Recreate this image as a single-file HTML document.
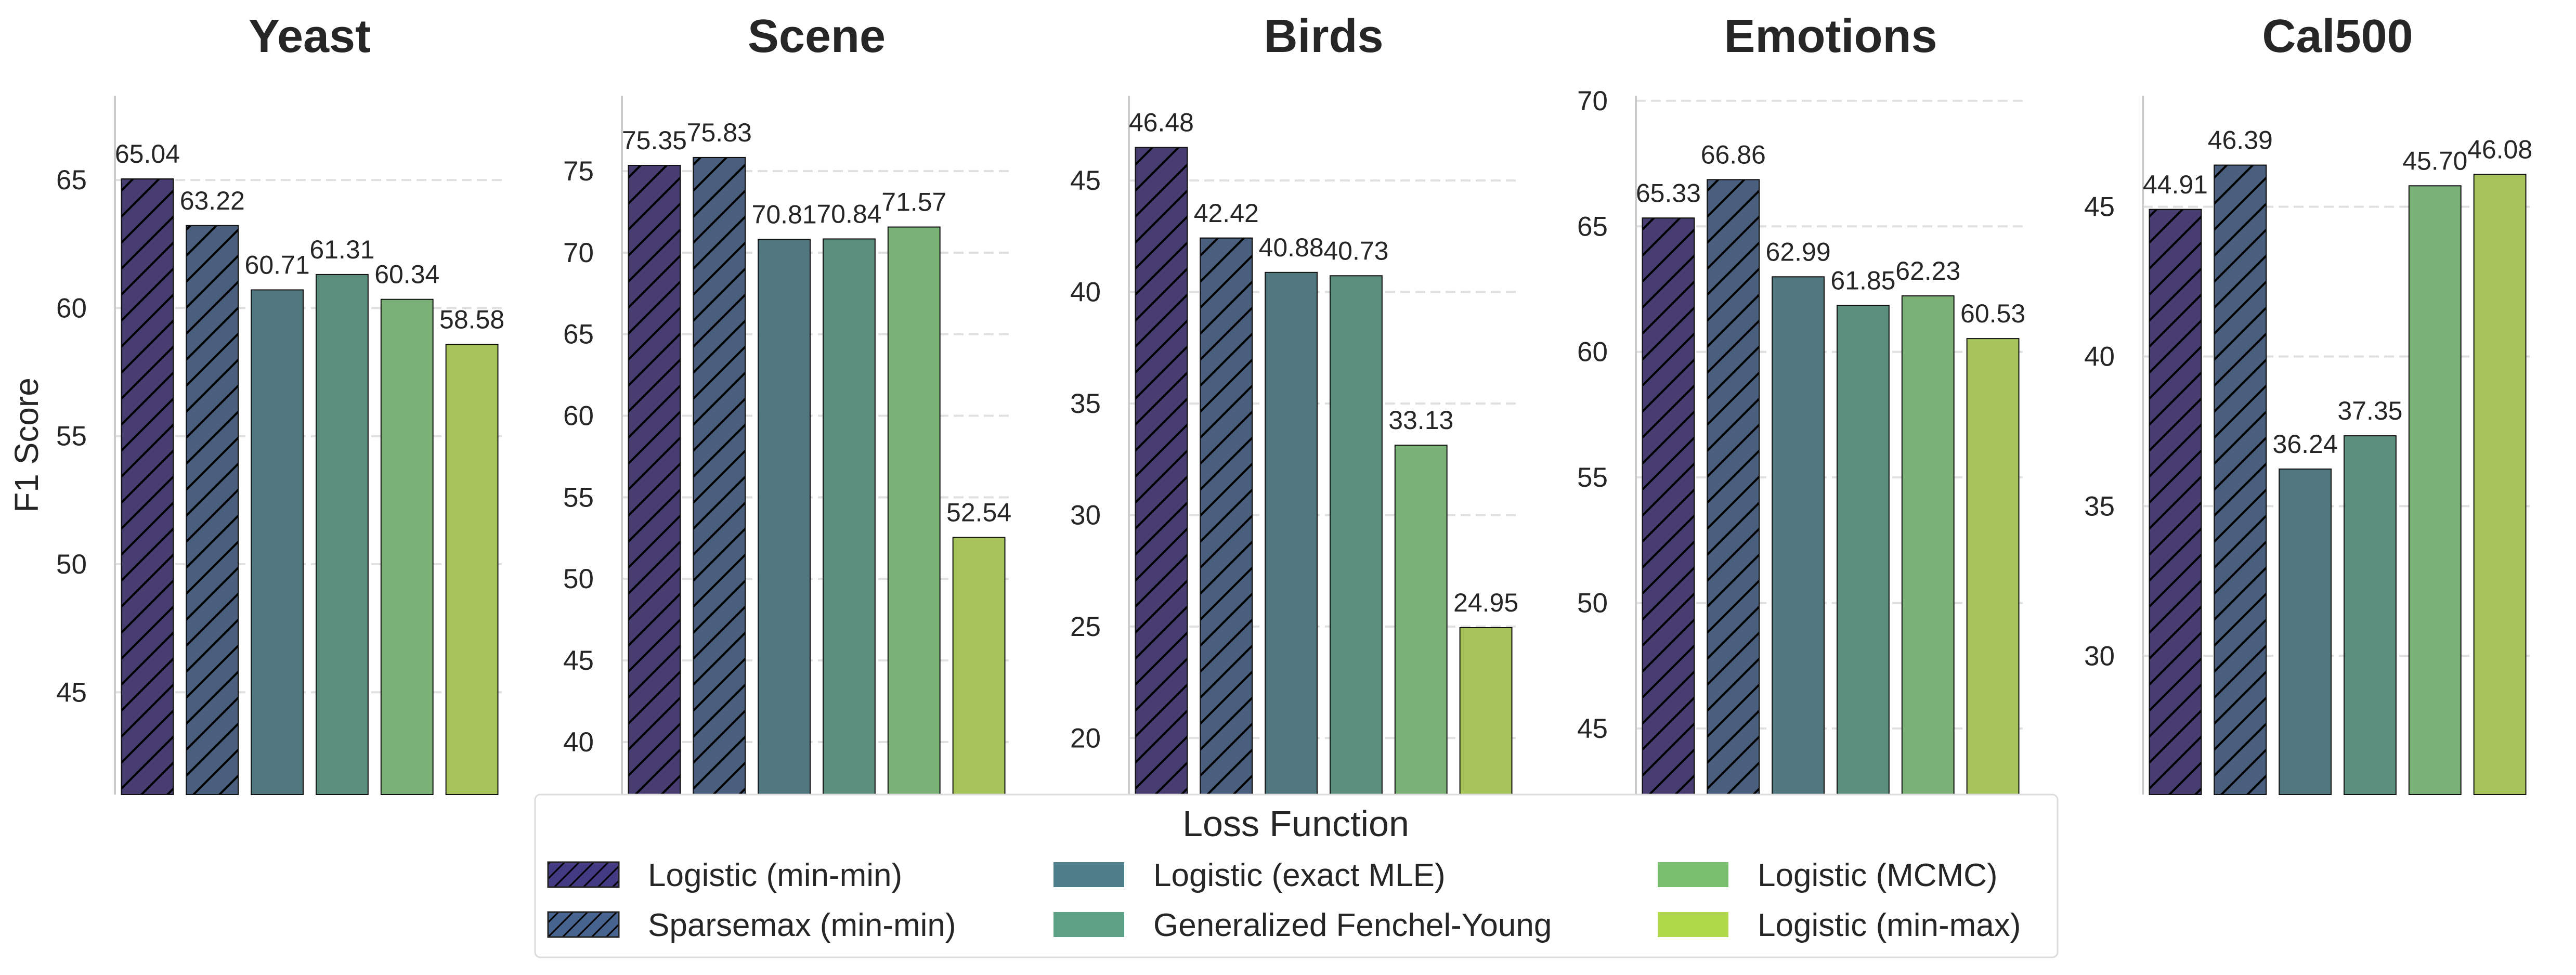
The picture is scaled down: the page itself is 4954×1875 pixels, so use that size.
<!DOCTYPE html>
<html><head><meta charset="utf-8"><style>
html,body{margin:0;padding:0;background:#fff;}
svg{display:block;font-family:"Liberation Sans",Arial,sans-serif;}
</style></head><body>
<svg id="chart" width="4954" height="1875" viewBox="0 0 4954 1875" xmlns="http://www.w3.org/2000/svg">
<defs>
<pattern id="hatch" patternUnits="userSpaceOnUse" width="50" height="50">
<path d="M-5,5 L5,-5 M0,50 L50,0 M45,55 L55,45" stroke="#000" stroke-width="4"/>
</pattern>
<pattern id="hatchL" patternUnits="userSpaceOnUse" width="28" height="28">
<path d="M-3,3 L3,-3 M0,28 L28,0 M25,31 L31,25" stroke="#000" stroke-width="3"/>
</pattern>
</defs>
<g id="panels"></g>
<text x="56" y="856" font-size="64" fill="#262626" text-anchor="middle" transform="rotate(-90 56 856)" dominant-baseline="middle">F1 Score</text>
<g id="legend">
<rect x="1029" y="1528" width="2928" height="313" rx="10" fill="#fff" fill-opacity="0.85" stroke="#dcdcdc" stroke-width="3"/>
<text x="2492" y="1608" font-size="70" fill="#262626" text-anchor="middle">Loss Function</text>
</g>
</svg>
<script>
const datasets = ["Yeast", "Scene", "Birds", "Emotions", "Cal500"];
const methods = ["Logistic (min-min)", "Sparsemax (min-min)", "Logistic (exact MLE)", "Generalized Fenchel-Young", "Logistic (MCMC)", "Logistic (min-max)"];
const yeastValues = [65.04, 63.22, 60.71, 61.31, 60.34, 58.58];
const sceneValues = [75.35, 75.83, 70.81, 70.84, 71.57, 52.54];
const birdsValues = [46.48, 42.42, 40.88, 40.73, 33.13, 24.95];
const emotionsValues = [65.33, 66.86, 62.99, 61.85, 62.23, 60.53];
const cal500Values = [44.91, 46.39, 36.24, 37.35, 45.70, 46.08];
const allValues = [yeastValues, sceneValues, birdsValues, emotionsValues, cal500Values];

const NS = "http://www.w3.org/2000/svg";
const barColors = ["#483D71", "#4A5E7E", "#50767E", "#5C8F7E", "#7BB077", "#A6C45A"];
const legColors = ["#443983", "#46628E", "#4F7F8B", "#5CA085", "#7ABE6F", "#B1D84B"];
const hatched = [true, true, false, false, false, false];
const spineX = [221, 1196, 2171, 3146, 4121];
const W = 749, TOP = 184, BOT = 1528;

function mk(tag, attrs, parent) {
  const e = document.createElementNS(NS, tag);
  for (const k in attrs) e.setAttribute(k, attrs[k]);
  parent.appendChild(e);
  return e;
}
const panels = document.getElementById("panels");
datasets.forEach((name, p) => {
  const vals = allValues[p];
  const ymin = Math.min(...vals) * 0.7, ymax = Math.max(...vals) * 1.05;
  const x0 = spineX[p];
  const y = v => BOT - (v - ymin) / (ymax - ymin) * (BOT - TOP);
  const pitch = W / vals.length;
  const g = mk("g", {}, panels);
  
  
  for (let t = Math.ceil(ymin / 5) * 5; t <= ymax; t += 5) {
    const gl = mk("line", {x1: x0, x2: x0 + W, y1: y(t), y2: y(t), stroke: "#e0e0e0", "stroke-width": 4, "stroke-dasharray": "19 10"}, g);
    
    
    const tl = mk("text", {x: x0 - 54, y: y(t) + 18, "font-size": 53, fill: "#262626", "text-anchor": "end"}, g);
    tl.textContent = t;
    
    
  }
  const sp = mk("line", {x1: x0, x2: x0, y1: TOP, y2: BOT, stroke: "#cccccc", "stroke-width": 4}, g);
  
  
  const ti = mk("text", {x: x0 + W / 2, y: 100, "font-size": 90, "font-weight": "bold", fill: "#262626", "text-anchor": "middle"}, g);
  ti.textContent = name;
  
  
  vals.forEach((v, i) => {
    const bx = x0 + i * pitch + pitch * 0.1, bw = pitch * 0.8, by = y(v);
    const r = mk("rect", {x: bx, y: by, width: bw, height: BOT - by, fill: barColors[i], stroke: "#111", "stroke-width": 2}, g);
    
    
    if (hatched[i]) {
      const h = mk("rect", {x: bx, y: by, width: bw, height: BOT - by, fill: "url(#hatch)", stroke: "#111", "stroke-width": 2}, g);
      
      
    }
    const lb = mk("text", {x: bx + bw / 2, y: by - 31, "font-size": 50, fill: "#262626", "text-anchor": "middle"}, g);
    lb.textContent = v.toFixed(2);
    
    
  });
});
const leg = document.getElementById("legend");
const colX = [1054, 2026, 3188], rowY = [1658, 1754];
methods.forEach((m, i) => {
  const c = Math.floor(i / 2), r = i % 2;
  const px = colX[c], py = rowY[r];
  const sw = mk("rect", {x: px, y: py, width: 136, height: 48, fill: legColors[i], stroke: hatched[i] ? "#222" : "none", "stroke-width": 3}, leg);
  
  
  if (hatched[i]) {
    const hs = mk("rect", {x: px, y: py, width: 136, height: 48, fill: "url(#hatchL)", stroke: "#222", "stroke-width": 3}, leg);
    
    
  }
  const t = mk("text", {x: px + 192, y: py + 46, "font-size": 62, fill: "#262626"}, leg);
  t.textContent = m;
  
  
});
</script>
</body></html>
